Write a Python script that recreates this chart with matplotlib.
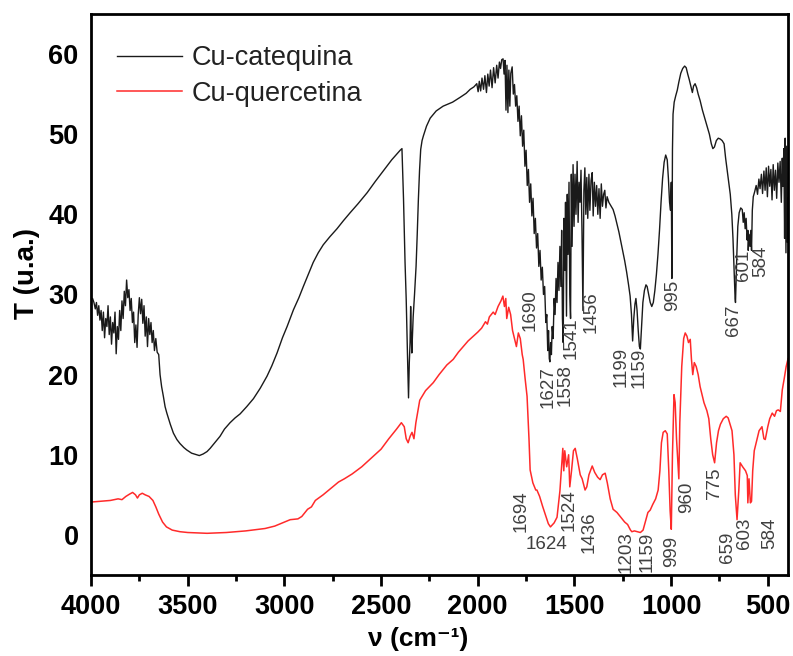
import numpy as np
import matplotlib
matplotlib.use('Agg')
import matplotlib.pyplot as plt

plt.rcParams['font.family'] = ['Liberation Sans', 'DejaVu Sans']

##############################
# FTIR spectra (wavenumber in cm-1, transmittance)
cat_wn = [4000, 3992, 3985, 3978, 3972, 3966, 3960, 3954, 3948, 3942, 3936, 3930, 3924, 3918, 3912, 3906,
          3900, 3894, 3888, 3882, 3876, 3870, 3864, 3858, 3852, 3846, 3840, 3834, 3828, 3822, 3816, 3810,
          3804, 3798, 3792, 3786, 3780, 3774, 3768, 3762, 3756, 3750, 3744, 3738, 3732, 3726, 3720, 3714,
          3708, 3702, 3696, 3690, 3684, 3678, 3672, 3665, 3658, 3650, 3643, 3635, 3626, 3617, 3608, 3590,
          3574, 3556, 3540, 3520, 3505, 3480, 3453, 3440, 3420, 3400, 3384, 3360, 3333, 3310, 3281, 3255,
          3229, 3195, 3160, 3125, 3090, 3065, 3038, 3010, 2986, 2953, 2925, 2902, 2875, 2851, 2825, 2799,
          2765, 2728, 2695, 2660, 2620, 2572, 2530, 2489, 2445, 2401, 2392, 2384, 2376, 2370, 2366, 2362,
          2358, 2354, 2350, 2347, 2344, 2341, 2337, 2334, 2327, 2319, 2313, 2307, 2301, 2295, 2288, 2281,
          2265, 2246, 2215, 2179, 2130, 2091, 2060, 2039, 2020, 2005, 1998, 1992, 1985, 1978, 1970, 1963,
          1955, 1948, 1941, 1934, 1926, 1918, 1910, 1902, 1895, 1888, 1882, 1876, 1869, 1864, 1859, 1854,
          1849, 1844, 1839, 1834, 1829, 1822, 1816, 1810, 1804, 1798, 1792, 1786, 1780, 1774, 1768, 1762,
          1756, 1750, 1744, 1738, 1732, 1726, 1720, 1714, 1708, 1702, 1696, 1690, 1684, 1678, 1672, 1666,
          1660, 1654, 1648, 1643, 1638, 1634, 1630, 1627, 1623, 1619, 1615, 1610, 1605, 1600, 1595, 1590,
          1585, 1580, 1575, 1570, 1566, 1562, 1558, 1554, 1550, 1546, 1541, 1537, 1533, 1528, 1524, 1520,
          1516, 1512, 1507, 1502, 1497, 1492, 1486, 1481, 1476, 1471, 1466, 1461, 1456, 1451, 1446, 1441,
          1436, 1431, 1425, 1420, 1414, 1408, 1403, 1397, 1391, 1385, 1379, 1373, 1367, 1361, 1355, 1349,
          1343, 1337, 1331, 1322, 1310, 1300, 1290, 1280, 1270, 1260, 1250, 1240, 1230, 1220, 1212, 1205,
          1199, 1193, 1187, 1182, 1176, 1170, 1164, 1159, 1153, 1146, 1138, 1130, 1124, 1116, 1108, 1100,
          1092, 1084, 1076, 1068, 1060, 1052, 1044, 1036, 1028, 1020, 1014, 1008, 1003, 999, 996, 993,
          990, 984, 976, 968, 960, 950, 940, 930, 922, 914, 906, 898, 890, 884, 876, 868,
          860, 850, 838, 826, 814, 802, 792, 784, 776, 766, 756, 746, 736, 726, 718, 710,
          702, 694, 686, 680, 674, 669, 667, 664, 660, 655, 648, 640, 632, 627, 622, 617,
          612, 607, 603, 601, 597, 592, 588, 584, 580, 575, 568, 560, 553, 546, 540, 533,
          527, 520, 514, 508, 502, 496, 490, 484, 478, 472, 466, 460, 454, 448, 442, 436,
          430, 425, 421, 417, 413, 410, 406, 402, 398, 395]
cat_t = [29.5, 29.5, 29.0, 28.2, 29.0, 27.4, 28.6, 26.8, 28.0, 25.5, 27.8, 24.6, 27.0, 26.0, 28.6, 25.0,
         27.2, 23.8, 26.5, 25.2, 27.8, 22.6, 26.0, 24.4, 28.0, 25.5, 29.2, 27.0, 30.4, 28.6, 31.8, 29.6,
         30.6, 28.0, 29.5, 26.5, 27.8, 24.0, 26.2, 23.4, 27.5, 29.6, 27.6, 29.4, 26.4, 28.6, 24.8, 27.2,
         23.5, 27.0, 25.0, 26.5, 24.0, 25.5, 23.0, 24.5, 22.8, 22.5, 20.0, 18.5, 17.3, 16.0, 15.2, 13.8,
         12.7, 11.9, 11.4, 10.9, 10.6, 10.2, 10.0, 9.9, 10.1, 10.4, 10.8, 11.5, 12.3, 13.2, 14.0, 14.6,
         15.1, 16.0, 17.0, 18.3, 19.8, 21.1, 22.7, 24.6, 26.0, 28.1, 29.6, 31.0, 32.6, 34.0, 35.2, 36.2,
         37.2, 38.2, 39.2, 40.2, 41.3, 42.7, 44.1, 45.4, 46.8, 48.0, 48.2, 42.0, 34.0, 29.4, 25.0, 21.0,
         17.1, 21.5, 24.0, 28.5, 25.0, 22.7, 25.5, 27.2, 30.0, 33.5, 37.5, 41.9, 45.5, 48.1, 49.2, 49.8,
         51.0, 52.0, 52.9, 53.5, 54.0, 54.6, 55.1, 55.6, 55.9, 56.3, 55.3, 56.6, 55.4, 57.0, 55.6, 57.3,
         55.2, 57.5, 56.0, 58.0, 55.8, 58.3, 56.4, 58.6, 57.0, 59.0, 58.2, 59.3, 59.4, 57.5, 59.2, 53.0,
         58.6, 52.7, 58.0, 53.5, 57.6, 58.4, 55.0, 56.2, 53.5, 54.8, 51.6, 53.5, 49.8, 52.3, 48.5, 50.5,
         46.0, 48.0, 43.6, 45.6, 41.5, 43.8, 39.8, 42.0, 37.6, 39.5, 35.8, 37.6, 33.5, 35.5, 31.8, 33.4,
         30.0, 31.0, 26.5, 27.5, 23.0, 25.5, 22.0, 21.6, 24.0, 22.5, 26.0, 24.5, 29.5, 27.5, 32.0, 29.0,
         34.0, 30.5, 36.0, 31.0, 38.0, 27.0, 24.0, 39.5, 33.0, 41.5, 27.3, 42.5, 35.0, 44.0, 30.0, 27.0,
         45.0, 36.0, 46.2, 38.5, 45.0, 40.0, 46.6, 39.0, 44.0, 41.5, 45.5, 38.0, 28.0, 43.0, 45.8, 40.0,
         44.6, 39.5, 45.0, 40.5, 44.2, 45.2, 39.8, 44.0, 41.0, 43.6, 40.0, 43.2, 39.5, 43.8, 41.0, 42.5,
         43.0, 40.8, 42.2, 41.5, 41.0, 40.6, 39.8, 38.8, 37.8, 36.6, 35.4, 34.2, 32.8, 31.2, 29.8, 27.5,
         24.2, 27.0, 28.8, 29.5, 28.0, 25.5, 23.5, 23.2, 26.0, 29.0, 30.5, 31.2, 31.0, 30.0, 29.0, 28.5,
         29.0, 30.5, 32.5, 35.0, 38.0, 41.5, 44.5, 46.5, 47.4, 46.8, 44.5, 41.5, 40.5, 44.0, 32.0, 48.0,
         52.5, 54.0, 54.8, 55.5, 56.5, 57.6, 58.2, 58.5, 58.3, 57.5, 56.8, 56.0, 55.2, 56.0, 56.3, 55.8,
         55.0, 54.2, 53.0, 52.0, 51.0, 50.0, 48.8, 48.2, 48.4, 49.2, 49.5, 49.4, 49.2, 48.8, 47.0, 45.5,
         44.0, 42.5, 40.0, 37.0, 33.0, 29.5, 29.0, 31.5, 35.0, 38.5, 40.2, 40.8, 40.6, 39.0, 40.2, 38.2,
         39.5, 36.8, 38.0, 35.5, 37.5, 36.0, 38.0, 35.5, 40.5, 42.2, 42.8, 43.6, 42.5, 44.4, 43.2, 45.0,
         42.6, 45.4, 43.0, 45.8, 42.2, 46.0, 43.5, 45.6, 41.8, 46.2, 43.0, 45.5, 42.0, 46.4, 44.0, 46.6,
         41.5, 47.0, 43.5, 48.2, 37.0, 49.5, 35.2, 48.5, 36.5, 42.0]

que_wn = [4000, 3950, 3900, 3860, 3840, 3820, 3800, 3785, 3770, 3760, 3750, 3735, 3720, 3700, 3680, 3665,
          3650, 3630, 3610, 3580, 3540, 3500, 3400, 3300, 3200, 3100, 3050, 3000, 2970, 2930, 2910, 2880,
          2860, 2840, 2800, 2760, 2720, 2690, 2650, 2600, 2550, 2500, 2460, 2420, 2395, 2380, 2370, 2360,
          2350, 2340, 2330, 2320, 2300, 2270, 2230, 2200, 2160, 2127, 2100, 2050, 2000, 1980, 1960, 1950,
          1940, 1920, 1910, 1895, 1880, 1870, 1862, 1855, 1850, 1840, 1830, 1820, 1810, 1800, 1790, 1780,
          1770, 1765, 1755, 1745, 1735, 1729, 1715, 1700, 1694, 1680, 1665, 1650, 1635, 1624, 1605, 1590,
          1575, 1565, 1560, 1555, 1550, 1540, 1530, 1524, 1515, 1505, 1496, 1485, 1470, 1460, 1445, 1436,
          1425, 1408, 1395, 1380, 1367, 1355, 1341, 1330, 1315, 1300, 1280, 1260, 1240, 1225, 1210, 1203,
          1190, 1175, 1159, 1145, 1135, 1120, 1108, 1095, 1080, 1067, 1058, 1050, 1041, 1030, 1020, 1012,
          1005, 999, 993, 985, 979, 972, 966, 960, 955, 945, 935, 927, 918, 910, 901, 895,
          888, 880, 870, 860, 850, 830, 815, 805, 795, 785, 775, 765, 755, 745, 730, 715,
          705, 695, 685, 675, 668, 659, 650, 643, 630, 615, 606, 603, 597, 590, 584, 578,
          570, 560, 545, 530, 520, 513, 500, 490, 477, 465, 455, 446, 435, 425, 415, 405,
          400, 395]
que_t = [4.1, 4.2, 4.3, 4.5, 4.4, 4.8, 5.1, 5.3, 5.0, 4.6, 5.0, 5.2, 5.0, 4.8, 4.3, 3.5,
         2.6, 1.6, 1.0, 0.6, 0.4, 0.3, 0.2, 0.3, 0.5, 0.8, 1.1, 1.6, 1.9, 2.0, 2.3, 3.2,
         3.5, 4.3, 5.0, 5.8, 6.6, 7.0, 7.6, 8.5, 9.6, 10.7, 12.0, 13.2, 14.0, 13.5, 12.0, 11.5,
         12.3, 12.8, 12.0, 14.0, 16.8, 18.0, 19.0, 20.0, 21.2, 21.9, 22.8, 24.2, 25.3, 25.8, 26.6, 26.3,
         27.2, 27.8, 27.5, 28.5, 29.2, 29.8, 28.5, 29.5, 27.0, 28.4, 27.5, 25.5, 24.5, 23.5, 25.2, 24.5,
         22.5, 21.9, 19.5, 17.3, 12.0, 8.1, 6.5, 5.6, 5.6, 4.8, 3.6, 2.5, 1.4, 1.0, 1.5, 2.2,
         5.5, 9.0, 10.8, 8.0, 10.5, 8.5, 10.0, 6.0, 8.0, 10.5, 10.8, 9.5, 7.5, 7.0, 5.6, 6.0,
         7.5, 8.6, 7.8, 7.2, 6.9, 7.5, 7.7, 6.5, 4.5, 3.2, 2.8, 2.2, 1.6, 1.3, 0.6, 0.4,
         0.5, 0.4, 0.3, 0.6, 1.5, 2.8, 3.1, 3.8, 4.5, 5.6, 8.0, 11.5, 12.8, 13.0, 12.6, 8.0,
         3.0, 0.7, 10.0, 17.5, 16.5, 12.0, 9.5, 7.0, 14.0, 21.0, 24.5, 25.2, 24.8, 24.0, 24.4, 22.0,
         20.0, 21.5, 21.0, 20.0, 18.5, 16.5, 15.5, 14.5, 12.0, 10.0, 9.0, 11.5, 13.0, 13.8, 14.5, 14.8,
         14.6, 13.8, 13.0, 10.0, 5.0, 1.9, 5.5, 9.0, 8.5, 8.0, 7.4, 4.0, 7.0, 4.0, 4.2, 8.0,
         10.5, 11.5, 13.0, 13.5, 12.0, 11.9, 13.5, 14.5, 15.2, 14.8, 15.5, 15.6, 15.4, 18.1, 19.5, 21.0,
         21.5, 22.0]

# band assignments: (label, wavenumber where text sits, T where text sits)
cat_labels = [('1690', 1729, 28.0), ('1627', 1636, 18.5), ('1558', 1548, 18.75), ('1541', 1517, 24.5),
              ('1456', 1413, 27.75), ('1199', 1258, 20.9), ('1159', 1165, 20.9), ('995', 994, 29.9),
              ('667', 679, 26.75), ('601', 627, 33.6), ('584', 539, 34.1)]
que_labels = [('1694', 1776, 3.0), ('1524', 1527, 3.1), ('1436', 1424, 0.4), ('1203', 1232, -2.1),
              ('1159', 1124, -2.1), ('999', 999, -2.0), ('960', 922, 4.75), ('775', 777, 6.4),
              ('659', 710, -1.6), ('603', 622, 0.25), ('584', 492, 0.25)]
##############################

fig = plt.figure(figsize=(7.93, 6.56), dpi=100)
ax = fig.add_axes([0.1148, 0.1235, 0.879, 0.8552])

ax.plot(cat_wn, cat_t, color='#1a1a1a', lw=1.0, label='Cu-catequina')
ax.plot(que_wn, que_t, color='#ff2a2a', lw=1.1, label='Cu-quercetina')

for txt, x, y in cat_labels + que_labels:
    ax.text(x, y, txt, rotation=90, ha='center', va='center', fontsize=13.5, color='#404040')
ax.text(1646, -1.25, '1624', ha='center', va='center', fontsize=13.5, color='#404040')

ax.set_xlim(4000, 395)
ax.set_ylim(-5, 65)
ax.set_xticks(np.arange(4000, 499, -500))
ax.set_xticks(np.arange(3750, 499, -500), minor=True)
ax.set_yticks(np.arange(0, 61, 10))

for s in ax.spines.values():
    s.set_linewidth(2.0)
ax.tick_params(axis='x', which='major', direction='out', length=8, width=2, pad=6, labelsize=19.5)
ax.tick_params(axis='x', which='minor', direction='out', length=4, width=2)
ax.tick_params(axis='y', length=0, pad=9, labelsize=19.5)
for lab in ax.get_xticklabels() + ax.get_yticklabels():
    lab.set_fontweight('bold')

ax.set_xlabel('ν (cm⁻¹)', fontsize=19, fontweight='bold')
ax.set_ylabel('T (u.a.)', fontsize=20, fontweight='bold')
ax.xaxis.set_label_coords(0.469, -0.093)
ax.yaxis.set_label_coords(-0.073, 0.537)

leg = ax.legend(loc='upper left', bbox_to_anchor=(0.037, 0.944), frameon=False, fontsize=19.5,
                handlelength=2.4, handletextpad=0.35, labelspacing=0.35, borderpad=0, borderaxespad=0)
for t in leg.get_texts():
    t.set_color('#222222')

fig.savefig('out.png', dpi=100)
